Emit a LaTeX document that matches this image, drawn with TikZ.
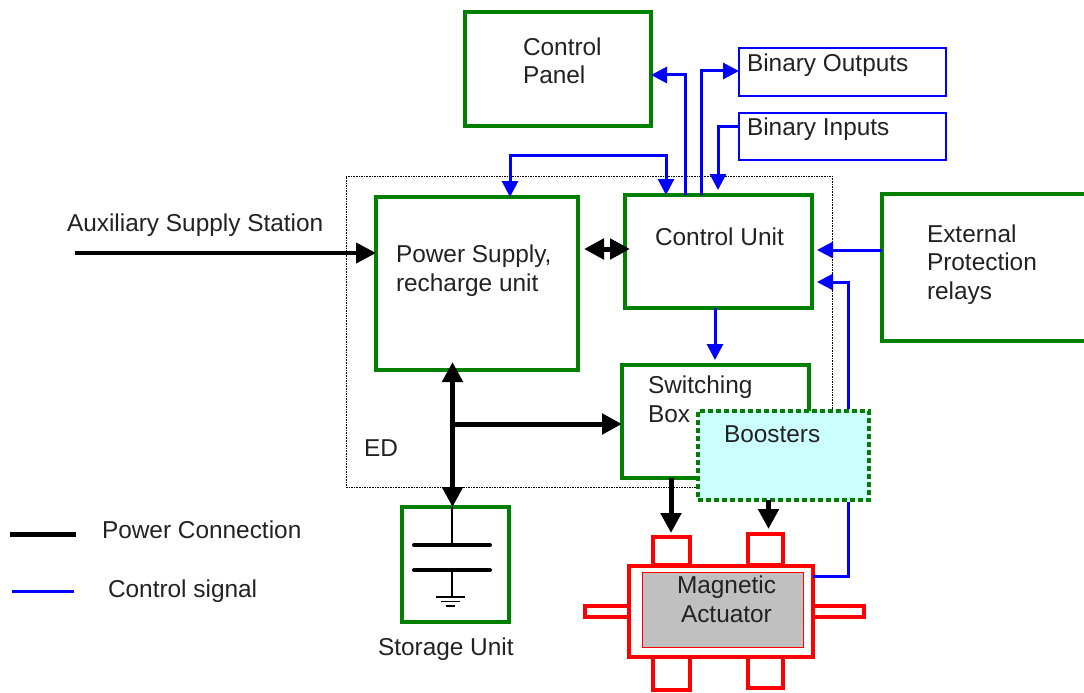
\documentclass[tikz,border=0pt]{standalone}
\usepackage{fontspec}
\setmainfont{Liberation Sans}
\usetikzlibrary{arrows.meta}
\definecolor{gline}{HTML}{008000}
\definecolor{bline}{HTML}{0000FF}
\definecolor{rline}{HTML}{FF0000}
\definecolor{boostfill}{HTML}{CCFFFF}
\definecolor{magfill}{HTML}{C0C0C0}
\definecolor{txt}{HTML}{222222}
\tikzset{
  base/.style={inner sep=0pt,outer sep=0pt,rectangle},
  gbox/.style={base,draw=gline,line width=4pt},
  bbox/.style={base,draw=bline,line width=1.4pt},
  rbox/.style={base,draw=rline,line width=3.8pt,fill=white},
  edbox/.style={base,draw=black,line width=1pt,dash pattern=on 1.6pt off 1pt},
  boost/.style={base,draw=gline,fill=boostfill,line width=3.6pt,dash pattern=on 5pt off 3pt},
  mag/.style={base,draw=rline,fill=magfill,line width=1pt},
  lbl/.style={inner sep=0pt,outer sep=0pt,anchor=base west,align=left,text=txt,font=\fontsize{24.4}{28.5}\selectfont},
  pow/.style={draw=black,line width=5pt},
  powtip/.style={-{Triangle[length=20pt,width=20pt]}},
  powtips/.style={{Triangle[length=20pt,width=20pt]}-{Triangle[length=20pt,width=20pt]}},
  sig/.style={draw=bline,line width=3pt},
  sigtip/.style={-{Triangle[length=16pt,width=16pt]}},
  wire/.style={draw=black,line width=2pt},
  plate/.style={draw=black,line width=4pt,line cap=round},
}
\begin{document}
\begin{tikzpicture}[x=1pt,y=-1pt]
\clip (0,0) rectangle (1084,693);
% containers and blocks
\node[edbox,minimum width=486pt,minimum height=311pt] (ed) at (589,331.5) {};
\node[gbox,minimum width=186pt,minimum height=114pt] (cp) at (558,69) {};
\node[bbox,minimum width=207pt,minimum height=48pt] (bo) at (842.5,72) {};
\node[bbox,minimum width=207pt,minimum height=47pt] (bi) at (842.5,136.5) {};
\node[gbox,minimum width=202pt,minimum height=173pt] (ps) at (477,283.5) {};
\node[gbox,minimum width=187pt,minimum height=113pt] (cu) at (718.5,251.5) {};
\node[gbox,minimum width=187pt,minimum height=113pt] (sb) at (715.5,421.5) {};
\node[gbox,minimum width=208pt,minimum height=147pt] (ex) at (986,267.5) {};
\node[gbox,minimum width=107pt,minimum height=115pt] (st) at (455.5,564.5) {};
\node[boost,minimum width=171pt,minimum height=89pt] (bst) at (783.5,455.5) {};
% actuator
\node[rbox,minimum width=37pt,minimum height=28pt] (t1) at (671.5,551) {};
\node[rbox,minimum width=35pt,minimum height=31pt] (t2) at (765.5,549.5) {};
\node[rbox,minimum width=37pt,minimum height=34pt] (t3) at (671.5,673) {};
\node[rbox,minimum width=35pt,minimum height=32pt] (t4) at (765.5,672) {};
\node[rbox,minimum width=45pt,minimum height=11pt] (t5) at (607.5,611.5) {};
\node[rbox,minimum width=51pt,minimum height=11pt] (t6) at (838.5,611.5) {};
\node[rbox,minimum width=184pt,minimum height=91pt] (act) at (721,611.5) {};
\node[mag,minimum width=161pt,minimum height=75pt] (mg) at (722.5,609.5) {};
% free ends and bends
\coordinate (auxstart) at (75,253);
\coordinate (legp1) at (10,534);
\coordinate (legp2) at (76,534);
\coordinate (legs1) at (12,591);
\coordinate (legs2) at (74,591);
\coordinate (k1) at (685,75);
\coordinate (k2) at (701,71);
\coordinate (k3) at (718,126);
\coordinate (k4) at (510,155);
\coordinate (k5) at (666,155);
\coordinate (k6) at (848,282);
\coordinate (k7) at (848,576);
\coordinate (k8) at (715,250);
\coordinate (pc) at (584,249);
\coordinate (pwr) at (452.5,424);
\coordinate (sbx) at (671,478);
\coordinate (bsx) at (768.5,500);
% power connections
\draw[pow,line width=4pt,powtip] (auxstart) -- (ps.west |- auxstart);
\draw[pow,powtips] (pc) -- ([xshift=5pt]cu.west |- pc);
\draw[pow,powtips] ([yshift=8pt]ps.south -| pwr) -- (st.north -| pwr);
\draw[pow,powtip] (pwr) -- (sb.west |- pwr);
\draw[pow,powtip] (sb.south -| sbx) -- ([yshift=4pt]t1.north -| sbx);
\draw[pow,powtip] (bst.south -| bsx) -- ([yshift=5pt]t2.north -| bsx);
% control signals
\draw[sig,sigtip] (cu.north -| k1) -- (k1) -- (cp.east |- k1);
\draw[sig,sigtip] (cu.north -| k2) -- (k2) -- (bo.west |- k2);
\draw[sig,sigtip] (bi.west |- k3) -- (k3) -- ([yshift=5pt]cu.north -| k3);
\draw[sig,sigtip] (k5) -- (k4) -- (ps.north -| k4);
\draw[sig,sigtip] (k4) -- (k5) -- (cu.north -| k5);
\draw[sig,sigtip] (ex.west |- k8) -- ([xshift=5pt]cu.east |- k8);
\draw[sig,sigtip] ([yshift=1.8pt]bst.north -| k6) -- (k6) -- ([xshift=5pt]cu.east |- k6);
\draw[sig] ([yshift=-1.8pt]bst.south -| k7) -- (k7) -- (act.east |- k7);
\draw[sig,sigtip] (cu.south -| k8) -- ([yshift=5pt]sb.north -| k8);
% storage symbol
\draw[wire] (st.north -| 452,0) -- (452,545);
\draw[plate] (414,545) -- (490,545);
\draw[plate] (414,570) -- (490,570);
\draw[wire] (452,570) -- (452,597);
\draw[draw=black,line width=1.5pt] (436,597) -- (465,597) (441,601.5) -- (460,601.5) (446,606) -- (455,606);
% legend
\draw[pow] (legp1) -- (legp2);
\draw[sig] (legs1) -- (legs2);
% labels
\node[lbl] (tcp) at (523,84) {Control\\Panel};
\node[lbl] (tbo) at (747,71) {Binary Outputs};
\node[lbl] (tbi) at (747,135) {Binary Inputs};
\node[lbl] (taux) at (67,231) {Auxiliary Supply Station};
\node[lbl] (tps) at (396,291) {Power Supply,\\recharge unit};
\node[lbl] (tcu) at (655,245) {Control Unit};
\node[lbl] (tex) at (927,299) {External\\Protection\\relays};
\node[lbl] (tsb) at (648,422) {Switching\\Box};
\node[lbl] (tbst) at (724,442) {Boosters};
\node[lbl] (ted) at (364,456) {ED};
\node[lbl] (tlp) at (102,538) {Power Connection};
\node[lbl] (tls) at (108,597) {Control signal};
\node[lbl] (tst) at (378,655) {Storage Unit};
\node[lbl] (tmg) at (677,622) {Magnetic\\\hspace*{4pt}Actuator};
\end{tikzpicture}
\end{document}
